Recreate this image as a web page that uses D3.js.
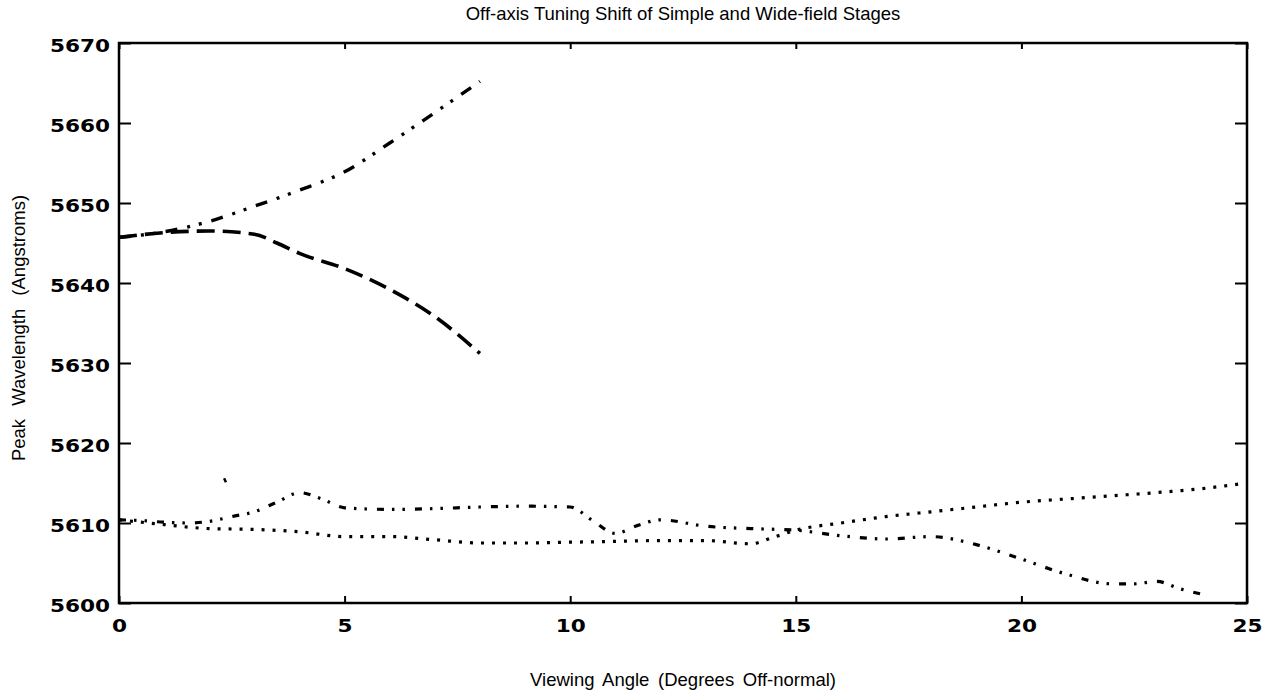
<!DOCTYPE html>
<html>
<head>
<meta charset="utf-8">
<script src="https://cdn.jsdelivr.net/npm/d3@7"></script>
<style>
  html, body { margin: 0; padding: 0; background: #fff; }
  svg { display: block; }
</style>
</head>
<body>
<svg id="chart" width="1275" height="692"></svg>
<script>
// ---------- data ----------
const xTicks = [0, 5, 10, 15, 20, 25];
const yTicks = [5600, 5610, 5620, 5630, 5640, 5650, 5660, 5670];

// wide-field stage, rising (dash-dot-dot)
const risingX = [0, 1, 2, 3, 4, 5, 6, 7, 8];
const risingY = [5645.7, 5646.4, 5647.7, 5649.6, 5651.6, 5653.9, 5657.5, 5661.3, 5665.2];

// simple stage, falling (long dash)
const fallingX = [0, 1, 2, 3, 3.5, 4, 5, 6, 7, 8];
const fallingY = [5645.7, 5646.3, 5646.5, 5646.1, 5645.0, 5643.7, 5641.8, 5639.2, 5635.8, 5631.2];

// lower dash-dot-dot series
const lowerX = [0, 0.5, 1, 1.5, 2, 2.5, 3, 3.5, 4, 4.5, 5, 6, 7, 8, 9, 10, 10.5, 11, 11.5, 12, 13, 14, 15, 16, 17, 18, 19, 20, 21, 22, 22.5, 23, 23.5, 24];
const lowerY = [5610.4, 5610.3, 5610.1, 5610.0, 5610.2, 5610.8, 5611.4, 5612.6, 5613.8, 5613.0, 5611.9, 5611.7, 5611.8, 5612.0, 5612.1, 5612.0, 5610.3, 5608.7, 5609.7, 5610.4, 5609.6, 5609.3, 5609.1, 5608.4, 5608.0, 5608.3, 5607.3, 5605.5, 5603.6, 5602.4, 5602.4, 5602.7, 5601.8, 5601.1];

// lower dotted series
const dottedX = [0, 1, 2, 3, 4, 5, 6, 7, 8, 9, 10, 11, 12, 13, 14, 14.5, 15, 16, 17, 18, 19, 20, 21, 22, 23, 24, 25];
const dottedY = [5610.4, 5609.8, 5609.3, 5609.2, 5608.9, 5608.3, 5608.3, 5607.9, 5607.5, 5607.5, 5607.6, 5607.7, 5607.8, 5607.8, 5607.4, 5608.2, 5609.1, 5610.0, 5610.8, 5611.4, 5612.0, 5612.6, 5613.0, 5613.4, 5613.8, 5614.3, 5615.0];

// stray point
const strayX = [2.33, 2.37];
const strayY = [5615.6, 5615.1];

// ---------- layout ----------
const svg = d3.select("#chart");
const pLeft = 119, pRight = 1247, pTop = 43, pBottom = 603;

const x = d3.scaleLinear().domain([0, 25]).range([pLeft, pRight]);
const y = d3.scaleLinear().domain([5600, 5670]).range([pBottom, pTop]);

const zip = (xs, ys) => xs.map((v, i) => [v, ys[i]]);
const line = d3.line().x(d => x(d[0])).y(d => y(d[1])).curve(d3.curveMonotoneX);

const series = [
  { data: zip(risingX, risingY), dash: "12,10,3,9,3,10", w: 3.4 },
  { data: zip(fallingX, fallingY), dash: "18,8", w: 3.6 },
  { data: zip(lowerX, lowerY), dash: "7,8,2.5,8,2.5,10", w: 3.2 },
  { data: zip(dottedX, dottedY), dash: "3,8", w: 3.2 },
  { data: zip(strayX, strayY), dash: null, w: 2.5 }
];

svg.append("g").selectAll("path").data(series).join("path")
  .attr("d", d => line(d.data))
  .attr("fill", "none")
  .attr("stroke", "#000")
  .attr("stroke-width", d => d.w)
  .attr("stroke-dasharray", d => d.dash);

// ---------- axes ----------
const tickFont = "'DejaVu Sans', sans-serif";
const sx = 1.2;

const gB = svg.append("g").attr("transform", `translate(0,${pBottom})`)
  .call(d3.axisBottom(x).tickValues(xTicks).tickSize(-7).tickPadding(16).tickFormat(d3.format("d")));
const gT = svg.append("g").attr("transform", `translate(0,${pTop})`)
  .call(d3.axisTop(x).tickValues(xTicks).tickSize(-6).tickFormat(""));
const gL = svg.append("g").attr("transform", `translate(${pLeft},0)`)
  .call(d3.axisLeft(y).tickValues(yTicks).tickSize(-12).tickPadding(9).tickFormat(d3.format("d")));
const gR = svg.append("g").attr("transform", `translate(${pRight},0)`)
  .call(d3.axisRight(y).tickValues(yTicks).tickSize(-12).tickFormat(""));

[gB, gT, gL, gR].forEach(g => {
  g.select(".domain").remove();
  g.selectAll(".tick line").attr("stroke", "#000").attr("stroke-width", 2);
});

gB.selectAll(".tick text")
  .attr("font-family", tickFont).attr("font-weight", "bold").attr("font-size", 18)
  .attr("fill", "#000")
  .attr("transform", `scale(${sx},1)`);
gL.selectAll(".tick text")
  .attr("font-family", tickFont).attr("font-weight", "bold").attr("font-size", 18)
  .attr("fill", "#000")
  .attr("x", -9 / sx)
  .attr("dy", "0.45em")
  .attr("transform", `scale(${sx},1)`);

// frame
svg.append("rect")
  .attr("x", pLeft).attr("y", pTop)
  .attr("width", pRight - pLeft).attr("height", pBottom - pTop)
  .attr("fill", "none").attr("stroke", "#000").attr("stroke-width", 2.5);

// ---------- labels ----------
const labFont = "'Liberation Sans', Arial, sans-serif";
svg.append("text")
  .attr("x", 683).attr("y", 20)
  .attr("text-anchor", "middle")
  .attr("font-family", labFont).attr("font-size", 18.5)
  .text("Off-axis Tuning Shift of Simple and Wide-field Stages");

svg.append("text")
  .attr("x", 683).attr("y", 686)
  .attr("text-anchor", "middle")
  .attr("font-family", labFont).attr("font-size", 18.5)
  .attr("word-spacing", 3.5)
  .text("Viewing Angle (Degrees Off-normal)");

svg.append("text")
  .attr("transform", "translate(25,328) rotate(-90)")
  .attr("text-anchor", "middle")
  .attr("font-family", labFont).attr("font-size", 18.5)
  .attr("word-spacing", 8)
  .text("Peak Wavelength (Angstroms)");
</script>
</body>
</html>
